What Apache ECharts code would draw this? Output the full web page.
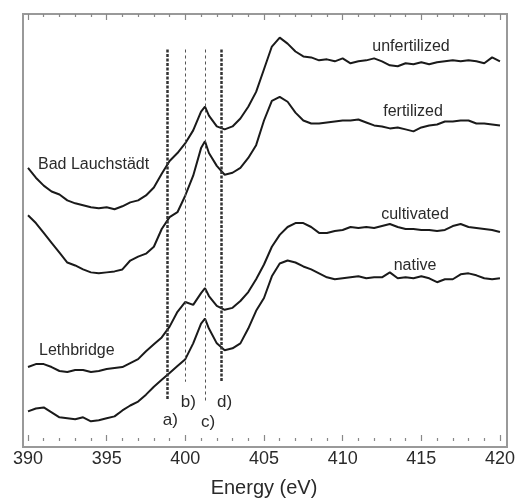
<!DOCTYPE html>
<html>
<head>
<meta charset="utf-8">
<script src="https://cdn.jsdelivr.net/npm/echarts@6/dist/echarts.min.js"></script>
<style>
  html, body { margin: 0; padding: 0; background: #fff; }
  #main { width: 518px; height: 503px; }
</style>
</head>
<body>
<div id="main"></div>
<script>
// photon energy (eV)
var energy = [
  390, 390.5, 391, 391.5, 392, 392.5, 393, 393.5, 394, 394.5, 395, 395.5, 396, 396.5, 397, 397.5,
  398, 398.5, 399, 399.5, 400, 400.5, 401, 401.25, 401.5, 402, 402.5, 403, 403.5, 404, 404.5, 405,
  405.5, 406, 406.5, 407, 407.5, 408, 408.5, 409, 409.5, 410, 410.5, 411, 411.5, 412, 412.5, 413,
  413.5, 414, 414.5, 415, 415.5, 416, 416.5, 417, 417.5, 418, 418.5, 419, 419.5, 420
];

// Bad Lauchstädt
var unfertilized = [
  2.77, 2.67, 2.59, 2.53, 2.50, 2.44, 2.41, 2.39, 2.37, 2.36, 2.37, 2.35, 2.38, 2.42, 2.44, 2.49,
  2.57, 2.71, 2.84, 2.92, 3.02, 3.15, 3.34, 3.39, 3.30, 3.19, 3.16, 3.19, 3.27, 3.39, 3.54, 3.77,
  4.00, 4.09, 4.03, 3.95, 3.90, 3.89, 3.86, 3.87, 3.85, 3.88, 3.83, 3.85, 3.86, 3.88, 3.85, 3.81,
  3.80, 3.83, 3.82, 3.84, 3.82, 3.84, 3.85, 3.86, 3.85, 3.86, 3.85, 3.83, 3.89, 3.85
];
var fertilized = [
  2.29, 2.21, 2.11, 2.01, 1.91, 1.81, 1.78, 1.74, 1.71, 1.70, 1.71, 1.72, 1.74, 1.83, 1.87, 1.90,
  1.97, 2.15, 2.27, 2.32, 2.49, 2.69, 2.97, 3.04, 2.92, 2.79, 2.70, 2.72, 2.77, 2.87, 3.00, 3.25,
  3.45, 3.49, 3.44, 3.33, 3.25, 3.22, 3.22, 3.23, 3.24, 3.25, 3.25, 3.26, 3.23, 3.20, 3.19, 3.17,
  3.18, 3.16, 3.14, 3.18, 3.20, 3.21, 3.24, 3.24, 3.25, 3.25, 3.22, 3.22, 3.21, 3.20
];

// Lethbridge
var cultivated = [
  0.75, 0.78, 0.78, 0.75, 0.71, 0.70, 0.72, 0.72, 0.70, 0.71, 0.73, 0.74, 0.75, 0.79, 0.83, 0.91,
  0.98, 1.05, 1.16, 1.31, 1.41, 1.38, 1.50, 1.55, 1.47, 1.37, 1.33, 1.35, 1.42, 1.51, 1.64, 1.79,
  1.97, 2.09, 2.17, 2.21, 2.21, 2.17, 2.11, 2.11, 2.13, 2.14, 2.17, 2.16, 2.17, 2.16, 2.18, 2.20,
  2.17, 2.15, 2.15, 2.14, 2.14, 2.13, 2.14, 2.18, 2.20, 2.17, 2.16, 2.15, 2.14, 2.12
];
var native = [
  0.30, 0.33, 0.34, 0.29, 0.24, 0.23, 0.22, 0.24, 0.20, 0.21, 0.23, 0.25, 0.31, 0.36, 0.40, 0.47,
  0.55, 0.62, 0.69, 0.76, 0.83, 0.99, 1.19, 1.24, 1.14, 0.99, 0.92, 0.94, 0.99, 1.14, 1.32, 1.45,
  1.67, 1.80, 1.83, 1.81, 1.77, 1.74, 1.70, 1.66, 1.64, 1.65, 1.66, 1.67, 1.65, 1.66, 1.66, 1.71,
  1.65, 1.66, 1.65, 1.67, 1.65, 1.61, 1.64, 1.64, 1.69, 1.70, 1.68, 1.65, 1.64, 1.65
];

// peak markers a) - d): energy, top, bottom of the dashed line
var markNames = ['a)', 'b)', 'c)', 'd)'];
var markEnergy = [398.85, 400.0, 401.25, 402.3];
var markTop = [3.97, 3.97, 3.97, 3.97];
var markBottom = [0.42, 0.60, 0.40, 0.60];

var font = 'Liberation Sans, Arial, Helvetica, sans-serif';

function pairs(vals) {
  return energy.map(function (e, i) { return [e, vals[i]]; });
}

var markData = markNames.map(function (n, i) {
  var thick = (i === 0 || i === 3);
  return [
    { coord: [markEnergy[i], markTop[i]], name: n,
      lineStyle: { width: thick ? 2.5 : 1, type: thick ? [3, 1.5] : [3, 3], color: thick ? '#333' : '#555' } },
    { coord: [markEnergy[i], markBottom[i]] }
  ];
});

var lineSeries = function (name, vals) {
  return {
    name: name,
    type: 'line',
    xAxisIndex: 0,
    yAxisIndex: 0,
    data: pairs(vals),
    showSymbol: false,
    silent: true,
    lineStyle: { color: '#1a1a1a', width: 2 }
  };
};

var tickAxis = function (pos) {
  return {
    type: 'value',
    gridIndex: 0,
    position: pos,
    min: 390,
    max: 420,
    interval: 5,
    axisLine: { show: false },
    axisTick: { show: true, inside: true, length: 6, lineStyle: { color: '#888', width: 1.2 } },
    minorTick: { show: true, splitNumber: 5, length: 3, lineStyle: { color: '#888', width: 1.2 } },
    splitLine: { show: false },
    axisLabel: pos === 'bottom'
      ? { show: true, margin: 9, fontSize: 18, color: '#2a2a2a', fontFamily: font }
      : { show: false }
  };
};

var chart = echarts.init(document.getElementById('main'));

var series = [
  lineSeries('unfertilized', unfertilized),
  lineSeries('fertilized', fertilized),
  lineSeries('cultivated', cultivated),
  lineSeries('native', native)
];
series[0].markLine = {
  silent: true,
  symbol: ['none', 'none'],
  label: {
    show: true,
    position: 'end',
    distance: 12,
    padding: [0, 0, 0, 6],
    formatter: '{b}',
    fontSize: 17,
    color: '#2a2a2a',
    fontFamily: font
  },
  data: markData
};

var option = {
  animation: false,
  backgroundColor: '#fff',
  grid: [
    { left: 28, right: 15, top: 14, bottom: 56 },
    { left: 23, right: 11, top: 14, bottom: 56, show: true, borderColor: '#999', borderWidth: 2, z: 0 }
  ],
  xAxis: [
    Object.assign(tickAxis('bottom'), {
      name: 'Energy (eV)',
      nameLocation: 'middle',
      nameGap: 37,
      nameTextStyle: { fontSize: 20, color: '#2a2a2a', fontFamily: font }
    }),
    tickAxis('top'),
    { type: 'value', gridIndex: 1, show: false, min: 0, max: 1 }
  ],
  yAxis: [
    { type: 'value', gridIndex: 0, min: 0, max: 4.33, show: false },
    { type: 'value', gridIndex: 1, min: 0, max: 1, show: false }
  ],
  graphic: [
    { type: 'text', left: 38, top: 157, style: { text: 'Bad Lauchstädt', fill: '#2a2a2a', font: '16px ' + font } },
    { type: 'text', left: 39, top: 343, style: { text: 'Lethbridge', fill: '#2a2a2a', font: '16px ' + font } },
    { type: 'text', x: 411, y: 47, style: { text: 'unfertilized', fill: '#2a2a2a', font: '16px ' + font, align: 'center', verticalAlign: 'middle' } },
    { type: 'text', x: 413, y: 112, style: { text: 'fertilized', fill: '#2a2a2a', font: '16px ' + font, align: 'center', verticalAlign: 'middle' } },
    { type: 'text', x: 415, y: 215, style: { text: 'cultivated', fill: '#2a2a2a', font: '16px ' + font, align: 'center', verticalAlign: 'middle' } },
    { type: 'text', x: 415, y: 266, style: { text: 'native', fill: '#2a2a2a', font: '16px ' + font, align: 'center', verticalAlign: 'middle' } }
  ],
  series: series
};

chart.setOption(option);
window.onresize = chart.resize;
</script>
</body>
</html>
